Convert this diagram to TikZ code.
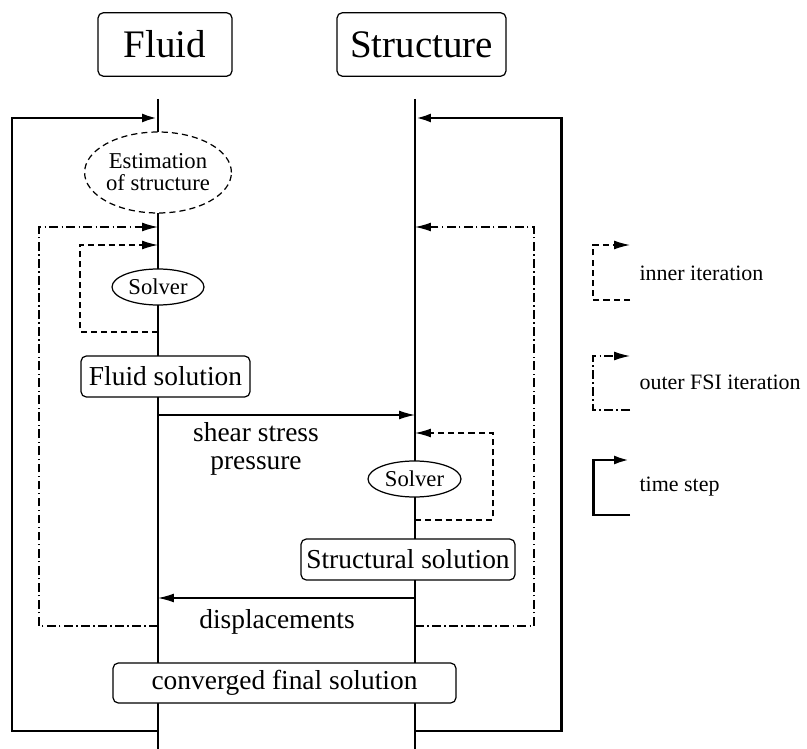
\documentclass[tikz,border=0pt]{standalone}
\usepackage{fontspec}
\setmainfont{Liberation Serif}
\usetikzlibrary{arrows.meta,shapes.geometric}

\begin{document}
\begin{tikzpicture}[
        x=0.02cm, y=-0.02cm,
        line width=0.7pt,
        head/.style={draw,rounded corners=3pt,fill=white,inner sep=2pt,minimum height=1.27cm,font=\fontsize{22.2}{26}\selectfont},
        box/.style={draw,rounded corners=3pt,fill=white,inner sep=2pt,minimum height=0.82cm,font=\fontsize{15.6}{18}\selectfont},
        solver/.style={draw,ellipse,fill=white,inner sep=0pt,minimum width=1.84cm,minimum height=0.72cm,font=\fontsize{12.9}{12.5}\selectfont},
        lbl/.style={align=center,font=\fontsize{15.6}{16}\selectfont},
        legend/.style={anchor=west,inner sep=0pt,font=\fontsize{12.5}{15}\selectfont},
        msg/.style={-{Latex[length=9pt,width=5pt]}},
        inneriter/.style={msg,dash pattern=on 3.5pt off 2.3pt},
        outeriter/.style={msg,dash pattern=on 5pt off 2pt on 0.7pt off 2pt},
        timestep/.style={msg,line width=1.7pt}
    ]
    \useasboundingbox (0,0) rectangle (807,749);
    \coordinate (ftop) at (158,99);
    \coordinate (fbot) at (158,749);
    \coordinate (stop) at (415,99);
    \coordinate (sbot) at (415,749);
    \draw (ftop) -- (fbot);
    \draw (stop) -- (sbot);

    \coordinate (ft1) at (158,118);
    \coordinate (ft2) at (158,731);
    \coordinate (st1) at (415,118);
    \coordinate (st2) at (415,731);
    \draw[timestep] (ft2) -- ++(-146,0) |- (ft1);
    \draw[timestep] (st2) -- ++(146,0) |- (st1);

    \coordinate (fo1) at (158,227);
    \coordinate (fo2) at (158,626);
    \coordinate (so1) at (415,227);
    \coordinate (so2) at (415,626);
    \draw[outeriter] (fo2) -- ++(-119,0) |- (fo1);
    \draw[outeriter] (so2) -- ++(119,0) |- (so1);

    \coordinate (fi1) at (158,245);
    \coordinate (fi2) at (158,332);
    \coordinate (si1) at (415,433);
    \coordinate (si2) at (415,520);
    \draw[inneriter] (fi2) -- ++(-78,0) |- (fi1);
    \draw[inneriter] (si2) -- ++(78,0) |- (si1);

    \coordinate (fm) at (158,415);
    \coordinate (sm) at (415,415);
    \coordinate (sd) at (415,598);
    \coordinate (fd) at (158,598);
    \draw[msg] (fm) -- (sm);
    \draw[msg] (sd) -- (fd);

    \node[head,minimum width=2.68cm] (fluid) at (165,44.5) {Fluid};
    \node[head,minimum width=3.38cm] (struct) at (421.5,44.5) {Structure};
    \node[solver,dash pattern=on 3.5pt off 2.3pt,align=center,minimum width=2.76cm,minimum height=1.62cm] (est) at (158,172.5) {Estimation\\of structure};
    \node[solver] (fsolver) at (158,287) {Solver};
    \node[box,minimum width=3.38cm] (fsol) at (165.5,376.5) {Fluid solution};
    \node[lbl] (shear) at (256,449) {shear stress\\pressure};
    \node[solver,minimum width=1.86cm] (ssolver) at (414.5,479) {Solver};
    \node[box,minimum width=4.28cm] (ssol) at (408,559.5) {Structural solution};
    \node[lbl] (disp) at (277,622) {displacements};
    \node[box,minimum width=6.86cm,minimum height=0.8cm] (conv) at (284.5,683) {converged final solution};

    \coordinate (li1) at (630,245);
    \coordinate (li2) at (630,300);
    \coordinate (lo1) at (630,356);
    \coordinate (lo2) at (630,410);
    \coordinate (lt1) at (630,460);
    \coordinate (lt2) at (630,515);
    \draw[inneriter] (li2) -- ++(-37,0) |- (li1);
    \draw[outeriter] (lo2) -- ++(-37,0) |- (lo1);
    \draw[timestep] (lt2) -- ++(-37,0) |- (lt1);
    \node[legend] (linner) at (639,273) {inner iteration};
    \node[legend] (louter) at (639,382) {outer FSI iteration};
    \node[legend] (ltime) at (639,487) {time step};
\end{tikzpicture}
\end{document}
